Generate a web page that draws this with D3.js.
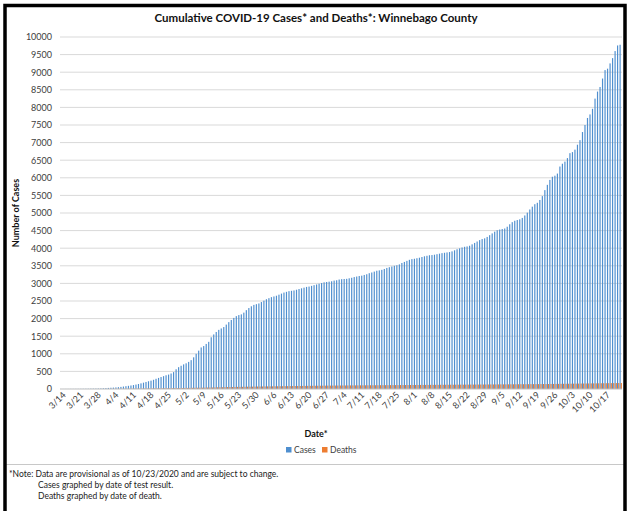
<!DOCTYPE html>
<html>
<head>
<meta charset="utf-8">
<script src="https://cdn.jsdelivr.net/npm/d3@7"></script>
<style>
html,body{margin:0;padding:0;background:#fff;}
svg{display:block;font-family:Lato,"Open Sans",sans-serif;}
</style>
</head>
<body>
<svg id="c" width="629" height="511"></svg>
<script>
// ---- data ----
const startDate = "2020-03-14";
const endDate = "2020-10-23";
const tickLabels = ["3/14","3/21","3/28","4/4","4/11","4/18","4/25","5/2","5/9","5/16","5/23","5/30","6/6","6/13","6/20","6/27","7/4","7/11","7/18","7/25","8/1","8/8","8/15","8/22","8/29","9/5","9/12","9/19","9/26","10/3","10/10","10/17"];
const cases = [
1,1,2,2,3,3,4,
4,5,6,7,8,10,11,
12,14,17,21,26,31,36,
40,45,52,60,70,80,90,
100,112,126,142,160,180,200,
220,238,262,290,315,340,365,
390,410,440,480,560,620,660,
700,730,770,820,900,1000,1090,
1180,1220,1280,1340,1470,1550,1620,
1680,1720,1760,1830,1900,1960,2020,
2070,2100,2120,2170,2240,2300,2350,
2390,2410,2430,2470,2510,2550,2580,
2610,2630,2650,2680,2710,2740,2760,
2780,2790,2800,2820,2840,2860,2880,
2900,2910,2930,2950,2970,2990,3010,
3030,3040,3050,3060,3080,3090,3110,
3120,3125,3130,3145,3160,3180,3195,
3210,3220,3240,3260,3290,3310,3335,
3360,3370,3385,3410,3440,3460,3480,
3500,3515,3540,3580,3610,3640,3670,
3690,3700,3715,3730,3750,3770,3785,
3800,3805,3815,3830,3845,3860,3870,
3880,3890,3910,3940,3970,3995,4020,
4040,4050,4070,4110,4150,4190,4230,
4260,4280,4320,4370,4420,4470,4510,
4530,4545,4560,4610,4680,4740,4780,
4800,4820,4860,4930,5010,5100,5180,
5250,5290,5370,5480,5650,5800,5940,
6030,6060,6120,6320,6400,6460,6560,
6700,6730,6800,6940,7070,7300,7500,
7700,7800,7960,8250,8450,8580,8820,
9060,9100,9250,9400,9600,9760,9780];
const deaths = [
0,0,0,0,0,0,0,
0,0,0,0,0,1,1,
1,1,2,2,3,3,4,
4,5,5,6,7,8,9,
10,10,11,12,13,14,15,
16,17,18,19,20,21,22,
23,24,25,26,27,28,29,
30,31,33,34,35,36,37,
38,40,42,43,44,46,48,
50,51,53,55,56,57,58,
60,61,62,63,65,66,67,
68,70,71,72,73,74,75,
76,77,78,79,80,81,82,
83,84,85,86,86,87,88,
89,90,91,92,92,93,94,
95,96,96,97,98,98,99,
100,100,101,102,102,103,103,
104,104,105,105,106,106,107,
107,108,108,109,109,110,110,
111,111,112,112,113,113,114,
114,115,115,116,116,117,117,
118,118,119,119,120,120,121,
121,122,122,123,123,124,124,
125,125,126,126,127,127,128,
128,129,129,130,130,131,131,
132,132,133,133,134,134,135,
135,136,136,137,137,138,138,
139,139,140,141,141,142,143,
144,145,146,147,148,149,150,
151,152,153,154,155,156,157,
158,159,160,161,162,163,164,
165,166,167,168,169,170,171];
const seriesNames = ["Cases","Deaths"];
const colors = ["#4f8fcf","#ed7d31"];
const yTicks = d3.range(0, 10001, 500);

// ---- build ----
const parse = d3.timeParse("%Y-%m-%d");
const fmt = d3.timeFormat("%-m/%-d");
const days = d3.timeDay.range(parse(startDate), d3.timeDay.offset(parse(endDate), 1)).map(fmt);
const rows = days.map((d, i) => ({date: d, Cases: cases[i], Deaths: deaths[i]}));

const svg = d3.select("#c");
const pL = 60, pR = 622, pT = 37, pB = 389;

const x = d3.scaleBand().domain(days).range([pL, pR]).paddingInner(0.06).paddingOuter(0.05);
const x1 = d3.scaleBand().domain(seriesNames).range([0, x.bandwidth()]).padding(0);
const y = d3.scaleLinear().domain([0, 10000]).range([pB, pT]);
const color = d3.scaleOrdinal().domain(seriesNames).range(colors);

// gridlines
svg.append("g").selectAll("line").data(yTicks.filter(t => t > 0)).join("line")
  .attr("x1", pL).attr("x2", pR)
  .attr("y1", d => y(d)).attr("y2", d => y(d))
  .attr("stroke", "#d9d9d9").attr("stroke-width", 1);

// bars
const g = svg.append("g");
g.selectAll("g").data(rows).join("g")
  .attr("transform", d => `translate(${x(d.date)},0)`)
  .selectAll("rect").data(d => seriesNames.map(k => ({k, v: d[k]}))).join("rect")
  .attr("x", d => x1(d.k)).attr("width", x1.bandwidth())
  .attr("y", d => y(d.v)).attr("height", d => y(0) - y(d.v))
  .attr("fill", d => color(d.k));

// y axis labels
const yAxis = d3.axisLeft(y).tickValues(yTicks).tickFormat(d3.format("d")).tickSize(0).tickPadding(6);
const ya = svg.append("g").attr("transform", `translate(${pL - 2},0)`).call(yAxis);
ya.select(".domain").remove();
ya.selectAll("text").attr("font-family", "Lato").attr("font-size", 9).attr("fill", "#404040");

// x axis
svg.append("line").attr("x1", pL).attr("x2", pR).attr("y1", y(0)).attr("y2", y(0))
  .attr("stroke", "#bfbfbf");
const xAxis = d3.axisBottom(x).tickValues(tickLabels).tickSize(0).tickPadding(0);
const xa = svg.append("g").attr("transform", `translate(0,${pB + 4})`).call(xAxis);
xa.select(".domain").remove();
xa.selectAll("text")
  .attr("font-family", "Lato").attr("font-size", 9).attr("fill", "#404040")
  .attr("text-anchor", "end").attr("dy", "0.6em").attr("dx", "0.2em")
  .attr("transform", "rotate(-45)");

// title
svg.append("text").attr("x", 316).attr("y", 22).attr("text-anchor", "middle")
  .attr("font-weight", "bold").attr("font-size", 11.5).attr("fill", "#111")
  .text("Cumulative COVID-19 Cases* and Deaths*: Winnebago County");

// axis titles
svg.append("text").attr("x", 316).attr("y", 437).attr("text-anchor", "middle")
  .attr("font-weight", "bold").attr("font-size", 9).attr("fill", "#111").text("Date*");
svg.append("text").attr("transform", "translate(19,213) rotate(-90)").attr("text-anchor", "middle")
  .attr("font-weight", "bold").attr("font-size", 9).attr("fill", "#111").text("Number of Cases");

// legend
const lg = svg.append("g").attr("transform", "translate(286,450)");
const li = lg.selectAll("g").data(seriesNames).join("g")
  .attr("transform", (d, i) => `translate(${i * 36},0)`);
li.append("rect").attr("x", 0).attr("y", -3).attr("width", 5.5).attr("height", 5.5).attr("fill", d => color(d));
li.append("text").attr("x", 8).attr("y", 3).attr("font-size", 8.5).attr("fill", "#404040").text(d => d);

// separator and note
svg.append("line").attr("x1", 6).attr("x2", 626).attr("y1", 464.5).attr("y2", 464.5).attr("stroke", "#c8c8c8");
const notes = [
  {t: "*Note: Data are provisional as of 10/23/2020 and are subject to change.", x: 9, y: 477},
  {t: "Cases graphed by date of test result.", x: 38, y: 488},
  {t: "Deaths graphed by date of death.", x: 38, y: 499}
];
svg.append("g").selectAll("text").data(notes).join("text")
  .attr("x", d => d.x).attr("y", d => d.y).attr("font-size", 8.5).attr("fill", "#222").text(d => d.t);

// border
svg.append("path").attr("d", "M5,520 V5.5 H625 V520").attr("fill", "none").attr("stroke", "#000").attr("stroke-width", 3.5);
</script>
</body>
</html>
